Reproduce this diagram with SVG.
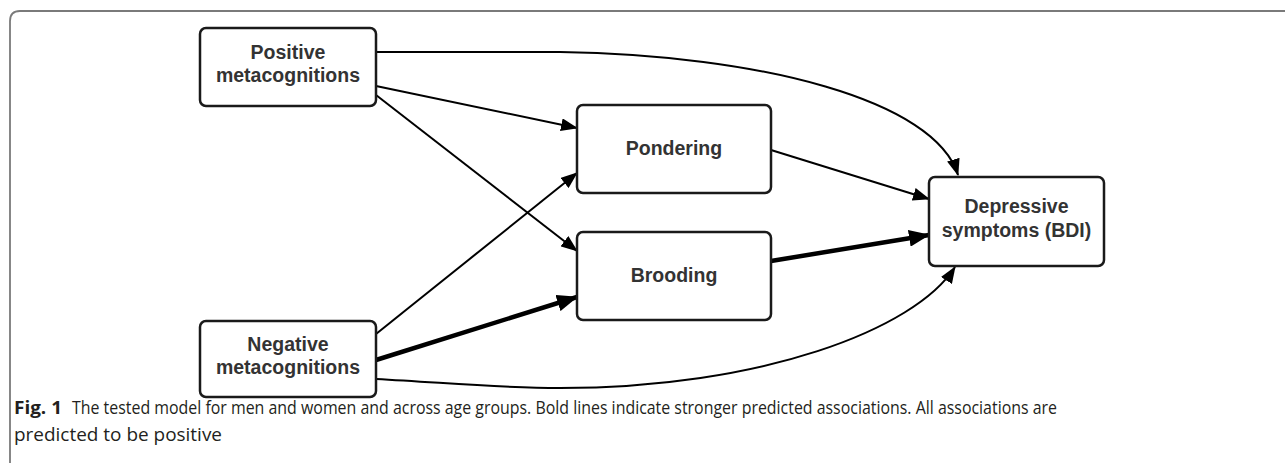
<svg xmlns="http://www.w3.org/2000/svg" width="1285" height="463" viewBox="0 0 1285 463">
<style>
.box{fill:#fff;stroke:#1a1a1a;stroke-width:2.5}
.lbl{font-family:"Liberation Sans",Arial,sans-serif;font-weight:bold;font-size:19.5px;fill:#333;text-anchor:middle}
.thin{fill:none;stroke:#000;stroke-width:2}
.bold{fill:none;stroke:#000;stroke-width:4.5}
.cap{font-family:"Open Sans","Liberation Sans",sans-serif;font-size:18.5px;fill:#231f20}
</style>
<defs>
<marker id="ah" markerUnits="userSpaceOnUse" markerWidth="17" markerHeight="13" refX="16" refY="6.5" orient="auto">
<path d="M0,0 L17,6.5 L0,13 Z" fill="#000"/>
</marker>
<marker id="ahb" markerUnits="userSpaceOnUse" markerWidth="21" markerHeight="17" refX="20" refY="8.5" orient="auto">
<path d="M0,0 L21,8.5 L0,17 Z" fill="#000"/>
</marker>
</defs>
<rect width="1285" height="463" fill="#fff"/>
<path d="M10,463 V21 Q10,11 20,11 H1285" fill="none" stroke="#7a7a7a" stroke-width="1.8"/>
<g id="connectors">
<path class="thin" d="M376,52 L560,52 C760,55 935,100 958,175" marker-end="url(#ah)"/>
<path class="thin" d="M376,86 L577,128" marker-end="url(#ah)"/>
<path class="thin" d="M376,95 L577,251" marker-end="url(#ah)"/>
<path class="thin" d="M376,334 L577,173" marker-end="url(#ah)"/>
<path class="bold" d="M376,360 L577,297" marker-end="url(#ahb)"/>
<path class="thin" d="M376,379 C450,383 500,388 560,388 C760,388 915,330 955,267" marker-end="url(#ah)"/>
<path class="thin" d="M771,150 L929,199" marker-end="url(#ah)"/>
<path class="bold" d="M771,261 L929,235" marker-end="url(#ahb)"/>
</g>
<g id="node-positive">
<rect class="box" x="200" y="28" width="176" height="78" rx="6"/>
<text class="lbl" x="288" y="59">Positive</text>
<text class="lbl" x="288" y="82">metacognitions</text>
</g>
<g id="node-negative">
<rect class="box" x="200" y="321" width="176" height="76" rx="6"/>
<text class="lbl" x="288" y="351">Negative</text>
<text class="lbl" x="288" y="374">metacognitions</text>
</g>
<g id="node-pondering">
<rect class="box" x="577" y="105" width="194" height="88" rx="6"/>
<text class="lbl" x="674" y="155">Pondering</text>
</g>
<g id="node-brooding">
<rect class="box" x="577" y="232" width="194" height="88" rx="6"/>
<text class="lbl" x="674" y="282">Brooding</text>
</g>
<g id="node-depressive">
<rect class="box" x="929" y="177" width="175" height="89" rx="6"/>
<text class="lbl" x="1016.5" y="213">Depressive</text>
<text class="lbl" x="1016.5" y="237">symptoms (BDI)</text>
</g>
<g id="caption">
<text class="cap" x="14" y="414" font-weight="bold" textLength="48" lengthAdjust="spacingAndGlyphs">Fig. 1</text>
<text class="cap" x="72" y="414" textLength="985" lengthAdjust="spacingAndGlyphs">The tested model for men and women and across age groups. Bold lines indicate stronger predicted associations. All associations are</text>
<text class="cap" x="14" y="441" textLength="208" lengthAdjust="spacingAndGlyphs">predicted to be positive</text>
</g>
</svg>
